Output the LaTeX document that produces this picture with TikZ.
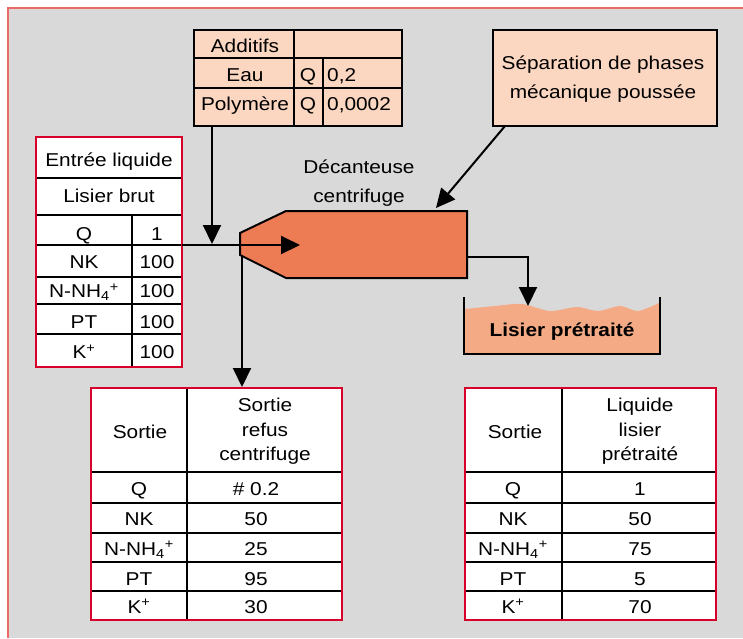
\documentclass[tikz,border=0pt]{standalone}
\usepackage{fontspec}
\setmainfont[FakeStretch=1.12]{Liberation Sans}
\usetikzlibrary{arrows.meta}
\definecolor{fond}{RGB}{217,217,217}
\definecolor{cadre}{RGB}{238,104,104}
\definecolor{rouge}{RGB}{214,0,42}
\definecolor{peche}{RGB}{251,214,193}
\definecolor{orangedec}{RGB}{237,123,84}
\definecolor{lisier}{RGB}{244,170,132}

\begin{document}
\begin{tikzpicture}[x=1pt,y=-1pt,
  every node/.style={inner sep=0pt,text height=13.3pt,text depth=0pt,font=\fontsize{18.6}{22}\selectfont},
  fleche/.style={line width=2pt,-{Triangle[length=19pt,width=18pt]}},
  tableau/.style={draw=rouge,line width=2.8pt},
  trait/.style={line width=1.3pt},
  boite/.style={draw,fill=peche,line width=2.8pt}]
\useasboundingbox (0,0) rectangle (743,638);
\fill[fond] (8,8) rectangle (743,638);
\draw[cadre,line width=1.5pt] (8,638) -- (8,8) -- (743,8);

% additifs
\node[boite,minimum width=208,minimum height=96] (additifs) at (298,78) {};
\draw[trait] (194,58) -- (402,58) (194,88) -- (402,88);
\draw[trait] (294,30) -- (294,126) (323,58) -- (323,126);
\node (a1) at (245,46) {Additifs};
\node (a2) at (245,75) {Eau};
\node (a3) at (245,104) {Polymère};
\node (a4) at (308,75) {Q};
\node (a5) at (308,104) {Q};
\node[anchor=west] (a6) at (327,75) {0,2};
\node[anchor=west] (a7) at (327,104) {0,0002};

% separation
\node[boite,minimum width=224,minimum height=96] (separation) at (605,78) {};
\node (s1) at (603,62.5) {Séparation de phases};
\node (s2) at (603,91.5) {mécanique poussée};

% decanteuse
\coordinate (d1) at (240,233);
\coordinate (d2) at (286,211);
\coordinate (d3) at (467,211);
\coordinate (d4) at (467,278);
\coordinate (d5) at (286,278);
\coordinate (d6) at (240,255);
\draw[fill=orangedec,line width=2pt] (d1) -- (d2) -- (d3) -- (d4) -- (d5) -- (d6) -- cycle;
\node (t1) at (359,167) {Décanteuse};
\node (t2) at (359,196) {centrifuge};

% cuve
\fill[lisier] plot[smooth] coordinates {(465,309) (495,306) (522,304) (550,311) (577,307) (598,311) (620,306) (638,311) (659,303)} -- (659,354) -- (465,354) -- cycle;
\draw[line width=2pt] (464,297) -- (464,354) -- (660,354) -- (660,297);
\node[font=\fontsize{18.6}{22}\selectfont\bfseries] (cuve) at (562,330) {Lisier prétraité};

% entree
\fill[white] (36,137) rectangle (182,367);
\draw[trait] (36,178) -- (182,178) (36,215) -- (182,215);
\foreach \y in {245,277,304,334} \draw[trait] (36,\y) -- (182,\y);
\draw[trait] (132,215) -- (132,367);
\draw[tableau] (36,137) rectangle (182,367);
\node (e1) at (109,160) {Entrée liquide};
\node (e2) at (109,195.5) {Lisier brut};
\foreach \lab/\val/\y [count=\i] in {Q/1/233.5,NK/100/262,{N-NH\textsubscript{4}\textsuperscript{+}}/100/291,PT/100/322,{K\textsuperscript{+}}/100/352}
{
  \node (el\i) at (84,\y) {\lab};
  \node (ev\i) at (157,\y) {\val};
}

% sortie refus
\fill[white] (91,388) rectangle (342,620);
\foreach \y in {472,503,533,562,591} \draw[trait] (91,\y) -- (342,\y);
\draw[trait] (187,388) -- (187,620);
\draw[tableau] (91,388) rectangle (342,620);
\node (r0) at (140,431.5) {Sortie};
\node (r1) at (265,405) {Sortie};
\node (r2) at (265,429.5) {refus};
\node (r3) at (265,453.5) {centrifuge};

% sortie liquide
\fill[white] (465,388) rectangle (716,620);
\foreach \y in {472,503,533,562,591} \draw[trait] (465,\y) -- (716,\y);
\draw[trait] (562,388) -- (562,620);
\draw[tableau] (465,388) rectangle (716,620);
\node (q0) at (515,431.5) {Sortie};
\node (q1) at (640,405) {Liquide};
\node (q2) at (640,429.5) {lisier};
\node (q3) at (640,453.5) {prétraité};

\foreach \lab/\val/\vval/\y [count=\i] in {Q/{\# 0.2}/1/488.5,NK/50/50/518.5,{N-NH\textsubscript{4}\textsuperscript{+}}/25/75/548.5,PT/95/5/578.5,{K\textsuperscript{+}}/30/70/606.5}
{
  \node (rl\i) at (139,\y) {\lab};
  \node (rv\i) at (256,\y) {\val};
  \node (ql\i) at (513,\y) {\lab};
  \node (qv\i) at (640,\y) {\vval};
}

% fleches
\coordinate (alim) at (182,245);
\coordinate (buse) at (300,245);
\coordinate (addbas) at (212,126);
\coordinate (addfin) at (212,244);
\coordinate (refhaut) at (242,255);
\coordinate (refus) at (242,387);
\coordinate (sepbas) at (505,126);
\coordinate (dechaut) at (436,208);
\coordinate (sortie) at (467,257);
\coordinate (surface) at (528,306);
\draw[fleche] (alim) -- (buse);
\draw[fleche] (addbas) -- (addfin);
\draw[fleche] (refhaut) -- (refus);
\draw[fleche] (sepbas) -- (dechaut);
\draw[fleche] (sortie) -| (surface);
\end{tikzpicture}
\end{document}
